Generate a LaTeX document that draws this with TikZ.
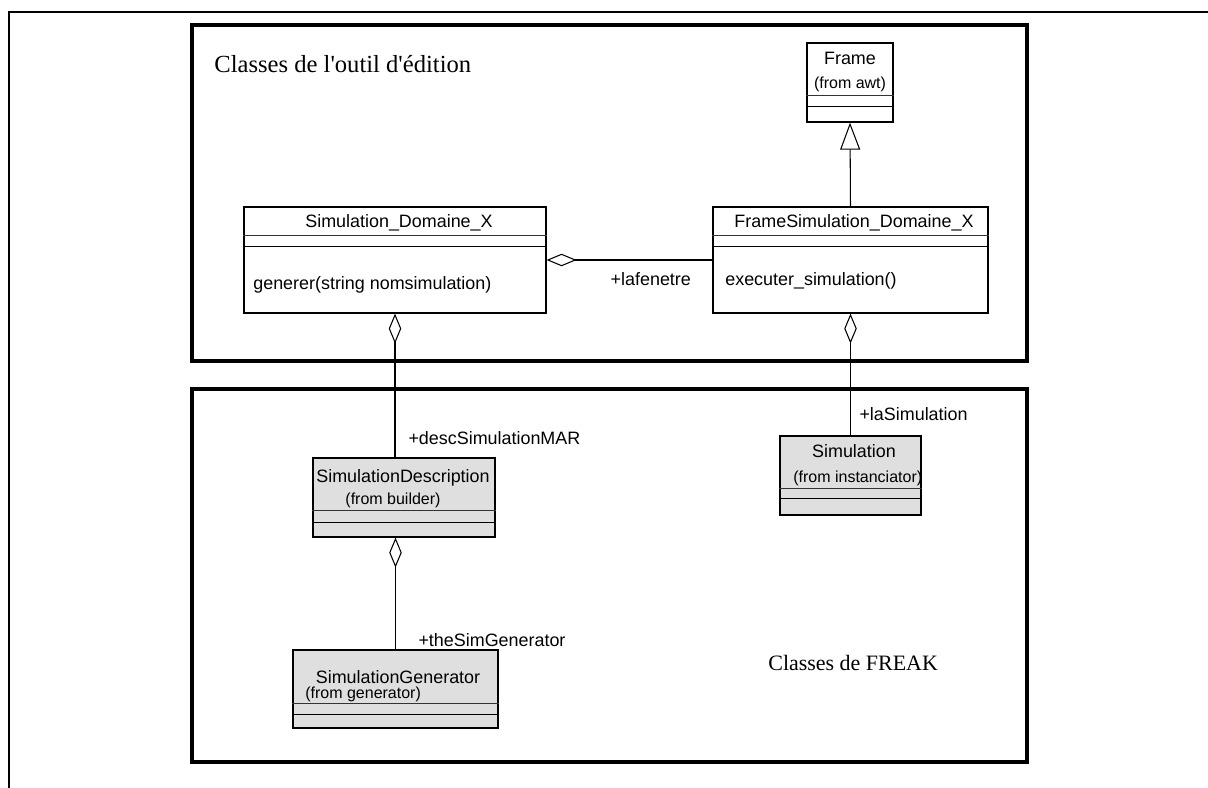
\documentclass[tikz,border=0pt]{standalone}
\usepackage{fontspec}
\setmainfont{Liberation Serif}
\setsansfont{Liberation Sans}
\usetikzlibrary{arrows.meta, positioning, calc}

\begin{document}
\begin{tikzpicture}[
    x=0.02cm, y=-0.02cm,
    every node/.style={font=\sffamily\fontsize{10.2}{12}\selectfont, inner sep=0pt, anchor=base},
    small/.style={font=\sffamily\fontsize{9.1}{11}\selectfont},
    title/.style={font=\rmfamily\fontsize{14}{17}\selectfont, anchor=base west},
    classbox/.style={rectangle, draw=black, line width=0.7pt, fill=white, anchor=center},
    ext/.style={classbox, fill=gray!25},
    pkg/.style={line width=1.9pt},
    agg/.style={{Diamond[open, length=0.6cm, width=0.25cm]}-, line width=0.6pt},
    inherit/.style={-{Triangle[open, length=0.54cm, width=0.4cm]}, line width=0.6pt}
]
\useasboundingbox (0,0) rectangle (1208,788);

% --- page border ---
\draw[line width=1.6pt] (9,788) -- (9,12) -- (1210,12);

% --- packages ---
\draw[pkg] (192,25) rectangle (1027,361);
\draw[pkg] (192,389) rectangle (1027,762);
\node[title] (t_edit)  at (214,72)  {Classes de l\textquotesingle outil d\textquotesingle\'edition};
\node[title, font=\rmfamily\fontsize{12.5}{15}\selectfont] (t_freak) at (768,670) {Classes de FREAK};

% --- classes ---
\node[classbox, minimum width=1.72cm, minimum height=1.58cm] (frame)    at (850,82.5)  {};
\node[classbox, minimum width=6.04cm, minimum height=2.12cm] (simdom)   at (395,260)   {};
\node[classbox, minimum width=5.5cm,  minimum height=2.12cm] (framesim) at (850.5,260) {};
\node[ext, minimum width=3.64cm, minimum height=1.58cm] (simdesc) at (404,497.5)  {};
\node[ext, minimum width=2.82cm, minimum height=1.58cm] (simul)   at (850.5,475.5) {};
\node[ext, minimum width=4.1cm,  minimum height=1.56cm] (simgen)  at (395.5,689)  {};

% compartments
\foreach \n/\a/\b in {frame/53/64, simdom/29/40, framesim/29/40, simdesc/53/65, simul/53/63, simgen/54/65}{
    \draw[line width=0.6pt, black!80] ($(\n.north west)+(0,\a)$) -- ($(\n.north east)+(0,\a)$);
    \draw[line width=0.6pt] ($(\n.north west)+(0,\b)$) -- ($(\n.north east)+(0,\b)$);
}

% class names
\node (frame_n)    at (850,64)  {Frame};
\node[small] (frame_f) at (850,88) {(from awt)};
\node (simdom_n)   at (399,227) {Simulation\_Domaine\_X};
\node[anchor=base west] (simdom_m) at (253,289) {generer(string nomsimulation)};
\node (framesim_n) at (854,227) {FrameSimulation\_Domaine\_X};
\node[anchor=base west] (framesim_m) at (725,285) {executer\_simulation()};
\node (simdesc_n)  at (403,482) {SimulationDescription};
\node[small] (simdesc_f) at (393,504) {(from builder)};
\node (simul_n)    at (854,457) {Simulation};
\node[small, anchor=base west] (simul_f) at (793,482) {(from instanciator)};
\node (simgen_n)   at (398,683) {SimulationGenerator};
\node[small, anchor=base west] (simgen_f) at (305,698) {(from generator)};

% --- relations ---
\draw[inherit] (framesim.north) -- (frame.south);
\draw[agg] (simdom.east) -- (framesim.west)
    node[pos=1, anchor=base east, xshift=-0.42cm, yshift=-0.52cm] (r_fen) {+lafenetre};
\draw[agg] (simdom.south) -- (simdom.south |- simdesc.north)
    node[pos=1, anchor=base west, xshift=0.26cm, yshift=0.26cm] (r_desc) {+descSimulationMAR};
\draw[agg] (framesim.south) -- (simul.north)
    node[pos=1, anchor=base west, xshift=0.17cm, yshift=0.3cm] (r_sim) {+laSimulation};
\draw[agg] (simdesc.south -| simgen.north) -- (simgen.north)
    node[pos=1, anchor=base west, xshift=0.45cm, yshift=0.06cm] (r_gen) {+theSimGenerator};
\end{tikzpicture}
\end{document}
